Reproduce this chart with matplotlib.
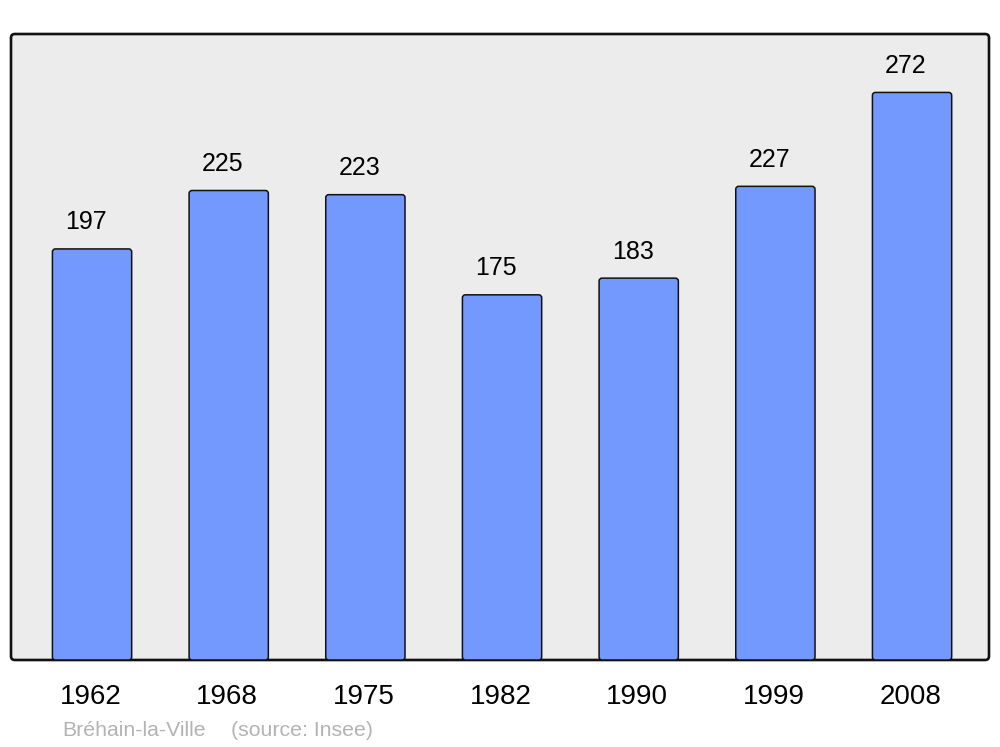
import matplotlib
matplotlib.use("Agg")
import matplotlib.pyplot as plt
import matplotlib.transforms as mtransforms
from matplotlib.patches import FancyBboxPatch

years = ["1962", "1968", "1975", "1982", "1990", "1999", "2008"]
population = [197, 225, 223, 175, 183, 227, 272]
commune = "Bréhain-la-Ville"
source = "(source: Insee)"

plt.rcParams['font.family'] = ['Liberation Sans', 'DejaVu Sans']

fig = plt.figure(figsize=(10, 7.47), dpi=100)
ax = fig.add_axes([0.011, 87/747, 0.978, 626/747])
ax.set_xlim(-0.593, 6.563)
ax.set_ylim(0, 300)
ax.set_facecolor('none')
for s in ax.spines.values():
    s.set_visible(False)

# rounded frame background
frame = FancyBboxPatch((0, 0), 1, 1, boxstyle="round,pad=0,rounding_size=0.004",
                       mutation_aspect=978/626, transform=ax.transAxes,
                       facecolor='#ececec', edgecolor='#111111', linewidth=1.9,
                       clip_on=False, zorder=0)
ax.add_patch(frame)

xs = list(range(len(years)))
width = 0.58
bars = ax.bar(xs, population, width=width, color='none', edgecolor='none')
px_per_x = 978 / (6.563 + 0.593)
px_per_y = 626 / 300
r_px = 3.0
for rect in bars:
    x0, y0 = rect.get_x(), rect.get_y()
    w, h = rect.get_width(), rect.get_height()
    p = FancyBboxPatch((x0, y0), w, h,
                       boxstyle=f"round,pad=0,rounding_size={r_px/px_per_x}",
                       mutation_aspect=(r_px/px_per_y)/(r_px/px_per_x),
                       facecolor='#7399ff', edgecolor='#111111', linewidth=1.1,
                       zorder=2)
    ax.add_patch(p)
    rect.remove()

for x, v in zip(xs, population):
    ax.annotate(str(v), (x, v), xytext=(-6, 26.5), textcoords='offset pixels',
                ha='center', va='center', fontsize=18, color='black')

ax.set_xticks(xs)
ax.set_xticklabels(years, fontsize=20)
ax.tick_params(axis='x', length=0, pad=17)
ax.set_yticks([])
shift = mtransforms.ScaledTranslation(-1.5/100, 0, fig.dpi_scale_trans)
for lbl in ax.get_xticklabels():
    lbl.set_transform(lbl.get_transform() + shift)

fig.text(62/1000, (747-730)/747, commune, fontsize=15.3, color='#b3b3b3',
         ha='left', va='center')
fig.text(231/1000, (747-730)/747, source, fontsize=15.3, color='#b3b3b3',
         ha='left', va='center')

fig.savefig('out.png', dpi=100)
